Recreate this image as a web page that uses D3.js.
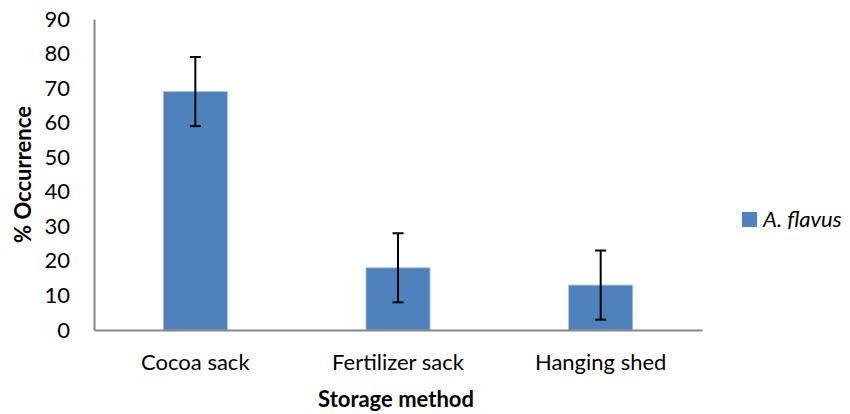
<!DOCTYPE html>
<html><head><meta charset="utf-8">
<script src="https://cdn.jsdelivr.net/npm/d3@7"></script>
<style>body{margin:0;background:#fff;} svg{display:block;}</style>
</head><body>
<script>
const categories = ["Cocoa sack", "Fertilizer sack", "Hanging shed"];
const values = [69, 18, 13];
const errors = [10, 10, 10];
const yTicks = [0, 10, 20, 30, 40, 50, 60, 70, 80, 90];
const seriesName = "A. flavus";

const W = 850, H = 414;
const m = {left: 94, right: 148, top: 19, bottom: 84};
const svg = d3.select("body").append("svg").attr("width", W).attr("height", H);
const font = "Lato, 'Open Sans', sans-serif";
const fs = 22;

const x = d3.scaleBand().domain(categories).range([m.left, W - m.right]).paddingInner(0.684).paddingOuter(0.342);
const y = d3.scaleLinear().domain([0, 90]).range([H - m.bottom, m.top]);

// bars
svg.selectAll("rect.bar").data(values).enter().append("rect")
  .attr("class", "bar")
  .attr("x", (d, i) => x(categories[i]))
  .attr("y", d => y(d))
  .attr("width", x.bandwidth())
  .attr("height", d => y(0) - y(d))
  .attr("fill", "#4F81BD")
  .attr("stroke", "#A9C1E0").attr("stroke-width", 0.8);

// error bars
const eb = svg.selectAll("g.err").data(values).enter().append("g").attr("class", "err")
  .attr("stroke", "#000").attr("stroke-width", 2);
const cx = i => x(categories[i]) + x.bandwidth() / 2;
eb.append("line").attr("x1", (d, i) => cx(i)).attr("x2", (d, i) => cx(i))
  .attr("y1", (d, i) => y(d + errors[i])).attr("y2", (d, i) => y(d - errors[i]));
eb.append("line").attr("x1", (d, i) => cx(i) - 5.5).attr("x2", (d, i) => cx(i) + 5.5)
  .attr("y1", (d, i) => y(d + errors[i])).attr("y2", (d, i) => y(d + errors[i]));
eb.append("line").attr("x1", (d, i) => cx(i) - 5.5).attr("x2", (d, i) => cx(i) + 5.5)
  .attr("y1", (d, i) => y(d - errors[i])).attr("y2", (d, i) => y(d - errors[i]));

// axes
const yAxis = svg.append("g").attr("transform", `translate(${m.left},0)`)
  .call(d3.axisLeft(y).tickValues(yTicks).tickSize(0).tickPadding(24));
yAxis.select(".domain").attr("stroke", "#868686").attr("stroke-width", 2);
yAxis.selectAll("text").attr("font-family", font).attr("font-size", fs).attr("fill", "#000");

const xAxis = svg.append("g").attr("transform", `translate(0,${y(0)})`)
  .call(d3.axisBottom(x).tickSize(0).tickPadding(24));
xAxis.select(".domain").attr("stroke", "#868686").attr("stroke-width", 2);
xAxis.selectAll("text").attr("font-family", font).attr("font-size", fs).attr("fill", "#000");

// axis titles
svg.append("text").attr("x", (m.left + W - m.right) / 2 - 2).attr("y", 407)
  .attr("text-anchor", "middle").attr("font-family", font).attr("font-weight", "bold")
  .attr("font-size", fs).text("Storage method");
svg.append("text").attr("transform", `translate(31,${(y(0) + y(90)) / 2}) rotate(-90)`)
  .attr("text-anchor", "middle").attr("font-family", font).attr("font-weight", "bold")
  .attr("font-size", fs).text("% Occurrence");

// legend
const lg = svg.append("g").attr("transform", "translate(742,212)");
lg.append("rect").attr("width", 15).attr("height", 15).attr("fill", "#4F81BD");
lg.append("text").attr("x", 21).attr("y", 15).attr("font-family", font).attr("font-style", "italic")
  .attr("font-size", fs).text(seriesName);
</script>
</body></html>
